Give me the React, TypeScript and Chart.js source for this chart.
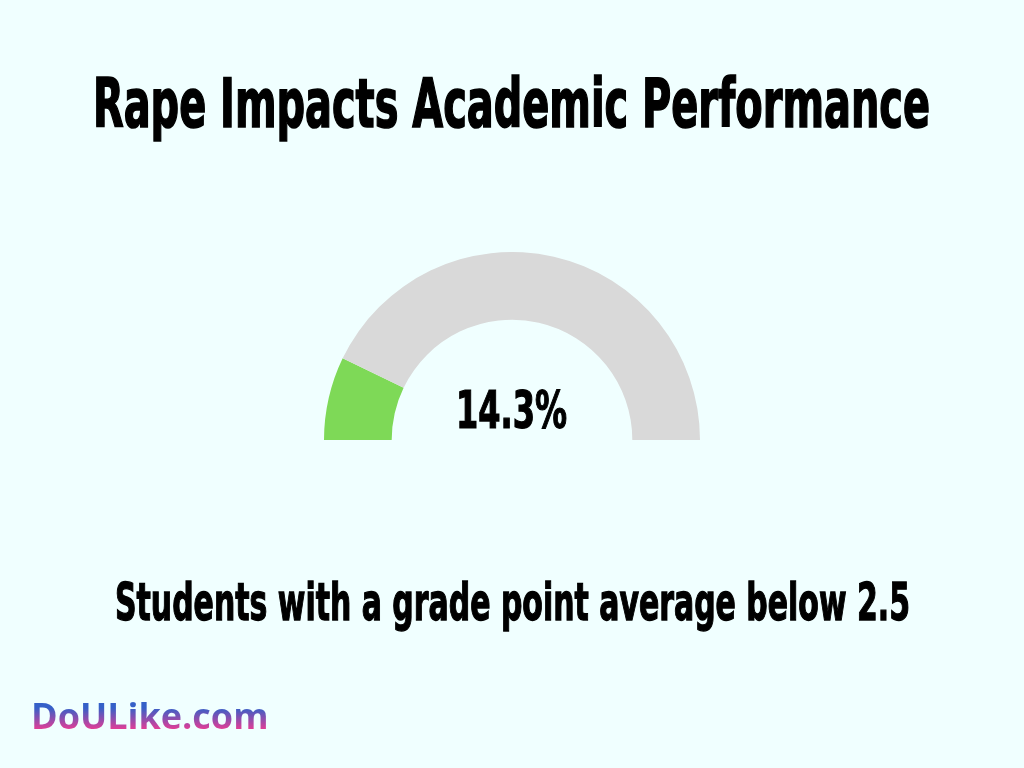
import React, { useRef, useEffect, useLayoutEffect } from "react";
import { Chart, ArcElement, DoughnutController } from "chart.js";

Chart.register(ArcElement, DoughnutController);

const segmentLabels = ["Below 2.5", "Other"];
const segmentValues = [14.3, 85.7];
const segmentColors = ["#7ED957", "#D9D9D9"];
const titleText = "Rape Impacts Academic Performance";
const valueText = "14.3%";
const captionText = "Students with a grade point average below 2.5";
const logoText = "DoULike.com";

const condensed = '"DejaVu Sans Condensed", "Liberation Sans Narrow", "DejaVu Sans", sans-serif';

// squeezes text horizontally so it fills the given width
const FitText = ({
  text,
  left,
  top,
  width,
  size,
  stroke,
}: {
  text: string;
  left: number;
  top: number;
  width: number;
  size: number;
  stroke: number;
}) => {
  const ref = useRef<HTMLDivElement | null>(null);
  useLayoutEffect(() => {
    const el = ref.current;
    if (!el) return;
    el.style.transform = "none";
    const w = el.getBoundingClientRect().width;
    if (w > 0) el.style.transform = `scaleX(${width / w})`;
  }, [text, width]);
  return (
    <div
      ref={ref}
      style={{
        position: "absolute",
        left,
        top,
        fontFamily: condensed,
        fontWeight: 700,
        fontSize: size,
        lineHeight: 1,
        whiteSpace: "nowrap",
        color: "#000",
        WebkitTextStroke: `${stroke}px #000`,
        transformOrigin: "0 0",
      }}
    >
      {text}
    </div>
  );
};

const Gauge = () => {
  const chartRef = useRef<HTMLCanvasElement | null>(null);
  const chartInstanceRef = useRef<Chart | null>(null);

  useEffect(() => {
    if (chartInstanceRef.current) chartInstanceRef.current.destroy();
    const ctx = chartRef.current?.getContext("2d");
    if (ctx) {
      chartInstanceRef.current = new Chart(ctx, {
        type: "doughnut",
        data: {
          labels: segmentLabels,
          datasets: [
            {
              data: segmentValues,
              backgroundColor: segmentColors,
              borderWidth: 0,
            },
          ],
        },
        options: {
          responsive: false,
          animation: false,
          rotation: -90,
          circumference: 180,
          cutout: "64%",
          layout: { padding: 0 },
          plugins: { legend: { display: false }, tooltip: { enabled: false } },
        },
      });
    }
    return () => {
      if (chartInstanceRef.current) chartInstanceRef.current.destroy();
    };
  }, []);

  return (
    <canvas
      ref={chartRef}
      width={376}
      height={188}
      style={{ position: "absolute", left: 324, top: 252, width: 376, height: 188 }}
    />
  );
};

const App = () => {
  return (
    <div
      style={{
        position: "fixed",
        left: 0,
        top: 0,
        width: 1024,
        height: 768,
        background: "#F0FFFF",
        overflow: "hidden",
      }}
    >
      <FitText text={titleText} left={93} top={71} width={837} size={67} stroke={1.6} />
      <Gauge />
      <FitText text={valueText} left={456} top={385} width={111} size={51} stroke={1.2} />
      <FitText text={captionText} left={115} top={576} width={795} size={52} stroke={1.3} />
      <div
        style={{
          position: "absolute",
          left: 31,
          top: 694,
          fontFamily: '"Open Sans", sans-serif',
          fontWeight: 700,
          fontSize: 36,
          lineHeight: 1.2,
          whiteSpace: "nowrap",
          backgroundImage: "linear-gradient(to bottom, #3560C8 32%, #E33D96 82%)",
          WebkitBackgroundClip: "text",
          backgroundClip: "text",
          color: "transparent",
        }}
      >
        {logoText}
      </div>
    </div>
  );
};

export default App;
